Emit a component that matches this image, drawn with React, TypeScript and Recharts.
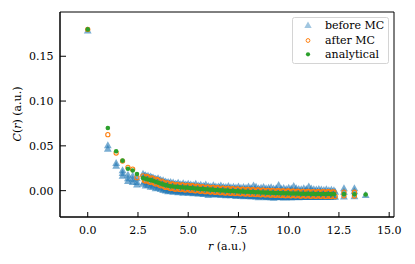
import React from 'react';
import { ScatterChart, Scatter, XAxis, YAxis, Customized, ReferenceArea } from 'recharts';

// ---- data ----
const rEarly = [0, 1.0, 1.414, 1.732, 2.0, 2.236, 2.449];
const greenEarly = [0.18, 0.07, 0.044, 0.0335, 0.0245, 0.0225, 0.0186];
const orangeEarly = [0.18, 0.0625, 0.042, 0.033, 0.026, 0.024, 0.0145];

const rBlueEarly = [0, 1.0, 1.0, 1.414, 1.414, 1.732, 1.732, 1.732, 2.0, 2.0, 2.0, 2.236, 2.236, 2.236, 2.449, 2.449, 2.449];
const blueEarly = [0.179, 0.051, 0.047, 0.031, 0.028, 0.023, 0.02, 0.017, 0.018, 0.014, 0.011, 0.017, 0.013, 0.01, 0.014, 0.01, 0.007];

const rBand = [
  2.75, 2.875, 3.0, 3.125, 3.25, 3.375, 3.5, 3.625, 3.75, 3.875,
  4.0, 4.125, 4.25, 4.375, 4.5, 4.625, 4.75, 4.875, 5.0, 5.125,
  5.25, 5.375, 5.5, 5.625, 5.75, 5.875, 6.0, 6.125, 6.25, 6.375,
  6.5, 6.625, 6.75, 6.875, 7.0, 7.125, 7.25, 7.375, 7.5, 7.625,
  7.75, 7.875, 8.0, 8.125, 8.25, 8.375, 8.5, 8.625, 8.75, 8.875,
  9.0, 9.125, 9.25, 9.375, 9.5, 9.625, 9.75, 9.875, 10.0, 10.125,
  10.25, 10.375, 10.5, 10.625, 10.75, 10.875, 11.0, 11.125, 11.25, 11.375,
  11.5, 11.625, 11.75, 11.875, 12.0, 12.125, 12.25,
];
const rBandB = [
  2.8125, 2.9375, 3.0625, 3.1875, 3.3125, 3.4375, 3.5625, 3.6875, 3.8125, 3.9375,
  4.0625, 4.1875, 4.3125, 4.4375, 4.5625, 4.6875, 4.8125, 4.9375, 5.0625, 5.1875,
  5.3125, 5.4375, 5.5625, 5.6875, 5.8125, 5.9375, 6.0625, 6.1875, 6.3125, 6.4375,
  6.5625, 6.6875, 6.8125, 6.9375, 7.0625, 7.1875, 7.3125, 7.4375, 7.5625, 7.6875,
  7.8125, 7.9375, 8.0625, 8.1875, 8.3125, 8.4375, 8.5625, 8.6875, 8.8125, 8.9375,
  9.0625, 9.1875, 9.3125, 9.4375, 9.5625, 9.6875, 9.8125, 9.9375, 10.0625, 10.1875,
  10.3125, 10.4375, 10.5625, 10.6875, 10.8125, 10.9375, 11.0625, 11.1875, 11.3125, 11.4375,
  11.5625, 11.6875, 11.8125, 11.9375, 12.0625, 12.1875, 12.3125,
];
const greenBand = [
  0.014, 0.0133, 0.0125, 0.0118, 0.011, 0.01, 0.009, 0.008, 0.007, 0.0062,
  0.0055, 0.005, 0.0046, 0.0043, 0.004, 0.0038, 0.0036, 0.0034, 0.0032, 0.003,
  0.0027, 0.0024, 0.0021, 0.0019, 0.0017, 0.0015, 0.0013, 0.0011, 0.0009, 0.0007,
  0.0005, 0.0003, 0.0002, 0.0, -0.0002, -0.0003, -0.0005, -0.0006, -0.0008, -0.0009,
  -0.0011, -0.0012, -0.0013, -0.0015, -0.0016, -0.0017, -0.0018, -0.002, -0.0021, -0.0022,
  -0.0023, -0.0024, -0.0025, -0.0026, -0.0027, -0.0028, -0.0029, -0.003, -0.003, -0.0031,
  -0.0032, -0.0032, -0.0033, -0.0034, -0.0034, -0.0035, -0.0035, -0.0036, -0.0036, -0.0037,
  -0.0037, -0.0037, -0.0038, -0.0038, -0.0038, -0.0039, -0.0039,
];
const orangeBand = [
  0.0165, 0.0108, 0.015, 0.0093, 0.0136, 0.0074, 0.0116, 0.0055, 0.0096, 0.0036,
  0.0081, 0.0024, 0.0072, 0.0017, 0.0066, 0.0012, 0.0062, 0.0008, 0.0058, 0.0004,
  0.0053, -0.0002, 0.0047, -0.0007, 0.0043, -0.0011, 0.0039, -0.0015, 0.0035, -0.0019,
  0.0031, -0.0023, 0.0028, -0.0026, 0.0024, -0.0029, 0.0021, -0.0032, 0.0018, -0.0035,
  0.0015, -0.0038, 0.0013, -0.0041, 0.001, -0.0043, 0.0008, -0.0046, 0.0005, -0.0048,
  0.0003, -0.005, 0.0001, -0.0052, -0.0001, -0.0054, -0.0003, -0.0056, -0.0004, -0.0057,
  -0.0006, -0.0058, -0.0007, -0.006, -0.0008, -0.0061, -0.0009, -0.0062, -0.001, -0.0063,
  -0.0011, -0.0063, -0.0012, -0.0064, -0.0012, -0.0065, -0.0013,
];
const orangeBandB = [
  0.0112, 0.0159, 0.0098, 0.0143, 0.0084, 0.0127, 0.0064, 0.0106, 0.0043, 0.0087,
  0.0029, 0.0076, 0.0019, 0.0068, 0.0014, 0.0064, 0.0009, 0.006, 0.0006, 0.0055,
  0.0, 0.005, -0.0005, 0.0045, -0.001, 0.004, -0.0013, 0.0037, -0.0018, 0.0033,
  -0.0021, 0.0029, -0.0025, 0.0025, -0.0028, 0.0023, -0.0032, 0.002, -0.0034, 0.0016,
  -0.0037, 0.0014, -0.004, 0.0011, -0.0042, 0.0009, -0.0045, 0.0006, -0.0047, 0.0003,
  -0.0049, 0.0002, -0.0052, 0.0, -0.0053, -0.0002, -0.0056, -0.0004, -0.0056, -0.0006,
  -0.0058, -0.0006, -0.006, -0.0008, -0.006, -0.0009, -0.0062, -0.001, -0.0062, -0.0012,
  -0.0063, -0.0011, -0.0065, -0.0012, -0.0064, -0.0013, -0.0065,
];
const blueBandUpper = [
  0.019, 0.0175, 0.017, 0.016, 0.015, 0.0135, 0.014, 0.0125, 0.0118, 0.0105,
  0.01, 0.0098, 0.0092, 0.008, 0.009, 0.0075, 0.0085, 0.007, 0.0078, 0.0072,
  0.0065, 0.008, 0.006, 0.0068, 0.0058, 0.007, 0.0055, 0.005, 0.0062, 0.0048,
  0.005, 0.006, 0.0045, 0.0043, 0.0055, 0.004, 0.0045, 0.0038, 0.005, 0.0035,
  0.0042, 0.0036, 0.0048, 0.0032, 0.006, 0.0045, 0.003, 0.0036, 0.0042, 0.0028,
  0.0035, 0.004, 0.0026, 0.003, 0.0065, 0.0024, 0.0032, 0.0022, 0.0036, 0.0025,
  0.0055, 0.003, 0.0022, 0.0018, 0.0028, 0.002, 0.005, 0.0026, 0.0018, 0.0015,
  0.0022, 0.0014, 0.001, 0.0018, 0.0008, 0.0012, 0.0006,
];
const blueBandLower = [
  0.008, 0.006, 0.0065, 0.0045, 0.005, 0.003, 0.0035, 0.002, 0.001, 0.0005,
  -0.0005, 0.0, -0.001, -0.0005, -0.0015, -0.001, -0.002, -0.0012, -0.0022, -0.0018,
  -0.0028, -0.002, -0.003, -0.0026, -0.0034, -0.003, -0.0045, -0.0033, -0.0038, -0.0042,
  -0.0036, -0.0046, -0.004, -0.0048, -0.0044, -0.005, -0.0047, -0.0058, -0.005, -0.0054,
  -0.006, -0.0052, -0.0058, -0.0064, -0.0056, -0.0062, -0.007, -0.006, -0.0066, -0.0072,
  -0.0064, -0.007, -0.0078, -0.0066, -0.0072, -0.0068, -0.0075, -0.007, -0.0066, -0.0073,
  -0.0068, -0.0064, -0.007, -0.0066, -0.0062, -0.0068, -0.0064, -0.006, -0.0066, -0.0062,
  -0.0058, -0.0064, -0.006, -0.0056, -0.0062, -0.0058, -0.006,
];
const blueBandMidUpper = [
  0.0168, 0.0158, 0.015, 0.0148, 0.0135, 0.0128, 0.0115, 0.0108, 0.0096, 0.009,
  0.0082, 0.0076, 0.007, 0.0072, 0.0064, 0.0066, 0.006, 0.0062, 0.0056, 0.0058,
  0.0052, 0.005, 0.0048, 0.0044, 0.0046, 0.004, 0.0041, 0.0036, 0.0038, 0.0032,
  0.0034, 0.0028, 0.003, 0.0026, 0.0027, 0.0022, 0.0024, 0.0019, 0.0021, 0.0016,
  0.0018, 0.0013, 0.0015, 0.001, 0.0012, 0.0008, 0.001, 0.0005, 0.0008, 0.0003,
  0.0006, 0.0001, 0.0004, -0.0001, 0.0002, -0.0003, 0.0, -0.0004, -0.0001, -0.0005,
  -0.0002, -0.0006, -0.0003, -0.0008, -0.0005, -0.0009, -0.0006, -0.001, -0.0007, -0.0011,
  -0.0008, -0.0012, -0.0009, -0.0013, -0.001, -0.0014, -0.0011,
];
const blueBandMidLower = [
  0.0105, 0.0095, 0.0092, 0.008, 0.0072, 0.0065, 0.0052, 0.0045, 0.0032, 0.0025,
  0.0018, 0.0014, 0.001, 0.0006, 0.0004, 0.0001, 0.0, -0.0003, -0.0004, -0.0007,
  -0.001, -0.0012, -0.0016, -0.0018, -0.002, -0.0022, -0.0025, -0.0026, -0.0029, -0.003,
  -0.0033, -0.0034, -0.0036, -0.0038, -0.004, -0.0041, -0.0043, -0.0044, -0.0046, -0.0047,
  -0.0049, -0.005, -0.0052, -0.0053, -0.0055, -0.0056, -0.0057, -0.0058, -0.006, -0.0061,
  -0.0062, -0.0063, -0.0064, -0.0065, -0.0066, -0.0066, -0.0067, -0.0068, -0.0068, -0.0069,
  -0.0069, -0.0068, -0.0069, -0.0068, -0.0069, -0.0068, -0.0069, -0.0068, -0.0069, -0.0068,
  -0.0069, -0.0068, -0.0069, -0.0068, -0.0068, -0.0067, -0.0066,
];

const rTailGreen = [12.75, 13.27, 13.83];
const greenTail = [-0.0039, -0.004, -0.0043];
const rTailOrange = [12.75, 12.75, 13.27, 13.27];
const orangeTail = [-0.0016, -0.0058, -0.0018, -0.006];
const rTailBlue = [12.75, 12.75, 12.75, 13.27, 13.27, 13.27, 13.83];
const blueTail = [0.0028, -0.001, -0.0062, 0.003, -0.0005, -0.006, -0.0045];

const xTicks = [0, 2.5, 5, 7.5, 10, 12.5, 15];
const yTicks = [0, 0.05, 0.1, 0.15];
const xDomain = [-1.38, 15.24];
const yDomain = [-0.0294, 0.1994];

const legendLabels = ['before MC', 'after MC', 'analytical'];

// ---- helpers ----
const toPts = (rs: number[], cs: number[]) => rs.map((r, i) => ({ r, c: cs[i] }));

const blueData = [
  ...toPts(rBlueEarly, blueEarly),
  ...toPts(rBand, blueBandUpper),
  ...toPts(rBand, blueBandLower),
  ...toPts(rBandB, blueBandMidUpper),
  ...toPts(rBandB, blueBandMidLower),
  ...toPts(rTailBlue, blueTail),
];
const orangeData = [
  ...toPts(rEarly, orangeEarly),
  ...toPts(rBand, orangeBand),
  ...toPts(rBandB, orangeBandB),
  ...toPts(rTailOrange, orangeTail),
];
const greenData = [
  ...toPts(rEarly, greenEarly),
  ...toPts(rBand, greenBand),
  ...toPts(rTailGreen, greenTail),
];

const BLUE = '#1f77b4';
const ORANGE = '#ff7f0e';
const GREEN = '#2ca02c';
const FONT = "'DejaVu Serif', serif";

const Tri = (p: any) => {
  const { cx, cy } = p;
  if (cx == null || cy == null) return <g />;
  return (
    <path
      d={`M${cx},${cy - 3.8}L${cx + 3.9},${cy + 3.2}L${cx - 3.9},${cy + 3.2}Z`}
      fill={BLUE}
      fillOpacity={0.6}
    />
  );
};
const Ring = (p: any) => {
  const { cx, cy } = p;
  if (cx == null || cy == null) return <g />;
  return <circle cx={cx} cy={cy} r={2.1} fill="none" stroke={ORANGE} strokeWidth={1.1} />;
};
const Dot = (p: any) => {
  const { cx, cy } = p;
  if (cx == null || cy == null) return <g />;
  return <circle cx={cx} cy={cy} r={2.3} fill={GREEN} />;
};

const Overlay = () => (
  <g fontFamily={FONT} fill="#000">
    <text
      x={0}
      y={0}
      fontSize={11}
      textAnchor="middle"
      transform="translate(21,114) rotate(-90)"
    >
      <tspan fontStyle="italic">C</tspan>(<tspan fontStyle="italic">r</tspan>) (a.u.)
    </text>
    <text x={227} y={250} fontSize={11} textAnchor="middle">
      <tspan fontStyle="italic">r</tspan> (a.u.)
    </text>
    <g>
      <rect x={292.5} y={17.5} width={96} height={46} rx={2} fill="#fff" fillOpacity={0.85} stroke="#d4d4d4" strokeWidth={1} />
      <path d="M308,21.4L311.7,28L304.3,28Z" fill={BLUE} fillOpacity={0.42} />
      <circle cx={308} cy={40.5} r={1.9} fill="none" stroke={ORANGE} strokeWidth={1} />
      <circle cx={308} cy={54.3} r={2.1} fill={GREEN} />
      <text x={325} y={28.8} fontSize={11}>{legendLabels[0]}</text>
      <text x={325} y={44.2} fontSize={11}>{legendLabels[1]}</text>
      <text x={325} y={58} fontSize={11}>{legendLabels[2]}</text>
    </g>
  </g>
);

export default function App() {
  const tickStyle = { fontFamily: FONT, fontSize: 11, fill: '#000' };
  return (
    <div style={{ position: 'absolute', left: 0, top: 0, width: 415, height: 264, background: '#fff' }}>
      <ScatterChart width={415} height={264} margin={{ top: 12, right: 21, bottom: 17, left: 0 }}>
        <XAxis
          xAxisId="b"
          dataKey="r"
          type="number"
          domain={xDomain}
          allowDataOverflow
          ticks={xTicks}
          interval={0}
          tickFormatter={(v: number) => v.toFixed(1)}
          tickSize={-5}
          tickMargin={14}
          height={30}
          axisLine={{ stroke: '#000', strokeWidth: 1 }}
          tickLine={{ stroke: '#000', strokeWidth: 1 }}
          tick={tickStyle}
        />
        <YAxis
          yAxisId="l"
          dataKey="c"
          type="number"
          domain={yDomain}
          allowDataOverflow
          ticks={yTicks}
          interval={0}
          tickFormatter={(v: number) => v.toFixed(2)}
          tickSize={-6}
          tickMargin={12.5}
          width={60}
          axisLine={{ stroke: '#000', strokeWidth: 1 }}
          tickLine={{ stroke: '#000', strokeWidth: 1 }}
          tick={tickStyle}
        />
        <ReferenceArea
          xAxisId="b"
          yAxisId="l"
          x1={xDomain[0]}
          x2={xDomain[1]}
          y1={yDomain[0]}
          y2={yDomain[1]}
          fill="none"
          fillOpacity={0}
          stroke="#000"
          strokeWidth={1}
          ifOverflow="visible"
        />
        <Scatter xAxisId="b" yAxisId="l" name="before MC" data={blueData} shape={Tri} isAnimationActive={false} />
        <Scatter xAxisId="b" yAxisId="l" name="after MC" data={orangeData} shape={Ring} isAnimationActive={false} />
        <Scatter xAxisId="b" yAxisId="l" name="analytical" data={greenData} shape={Dot} isAnimationActive={false} />
        <Customized component={Overlay} />
      </ScatterChart>
    </div>
  );
}
